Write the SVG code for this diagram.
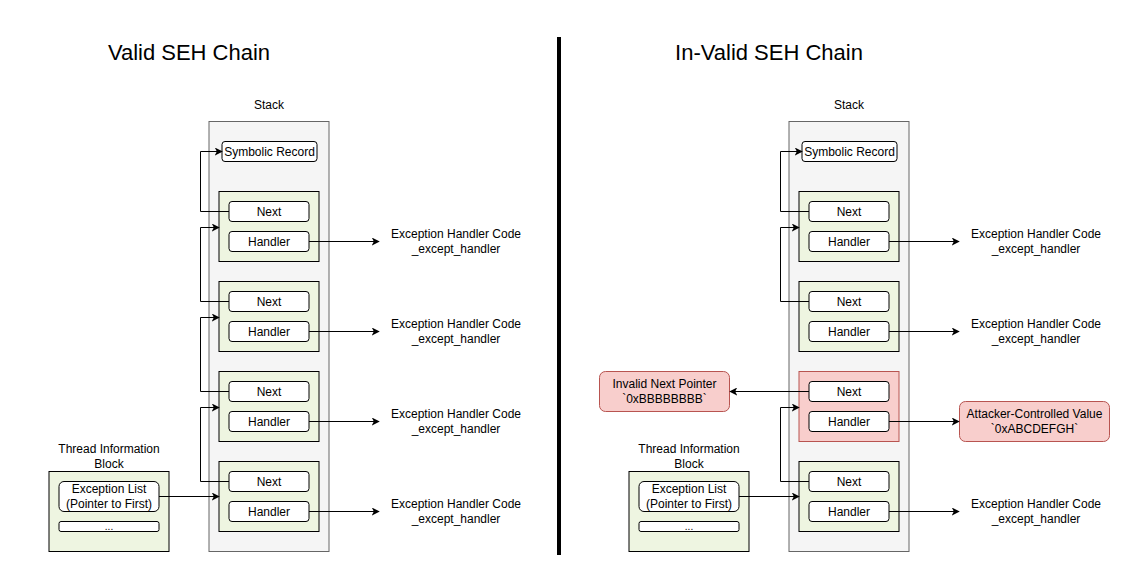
<svg xmlns="http://www.w3.org/2000/svg" width="1145" height="569" viewBox="0 0 1145 569">
<defs>
<style>
text{font-family:"Liberation Sans",Arial,sans-serif;font-size:12px;fill:#000;text-anchor:middle}
.title{font-size:22px}
.stack{fill:#f5f5f5;stroke:#666666;stroke-width:1}
.frame{fill:#eef5e1;stroke:#000;stroke-width:1}
.bad{fill:#f8cecc;stroke:#b85450;stroke-width:1}
.cell{fill:#fff;stroke:#000;stroke-width:1}
.badnode{fill:#f8cecc;stroke:#b85450;stroke-width:1}
.edge{fill:none;stroke:#000;stroke-width:1;marker-end:url(#arr)}
</style>
<marker id="arr" viewBox="0 0 10 10" refX="9" refY="5" markerWidth="8" markerHeight="8" markerUnits="userSpaceOnUse" orient="auto">
<path d="M0,0 L10,5 L0,10 L2.5,5 Z" fill="#000"/>
</marker>
</defs>
<rect width="1145" height="569" fill="#fff"/>

<g id="titles">
<text class="title" x="189" y="60">Valid SEH Chain</text>
<text class="title" x="769" y="60">In-Valid SEH Chain</text>
</g>
<g id="divider"><line x1="559" y1="37" x2="559" y2="555" stroke="#000" stroke-width="4"/></g>

<!-- LEFT -->
<g id="L-stack">
<text x="269" y="109">Stack</text>
<rect class="stack" x="209" y="121.5" width="120" height="430"/>
</g>
<g id="L-sym"><rect class="cell" x="222" y="141.5" width="95" height="20" rx="3"/><text x="269.5" y="155.5">Symbolic Record</text></g>
<g id="L-rec1"><rect class="frame" x="219" y="191.5" width="100" height="70"/>
<rect class="cell" x="229" y="201.5" width="80" height="20" rx="3"/><text x="269" y="215.5">Next</text>
<rect class="cell" x="229" y="231.5" width="80" height="20" rx="3"/><text x="269" y="245.5">Handler</text></g>
<g id="L-rec2"><rect class="frame" x="219" y="281.5" width="100" height="70"/>
<rect class="cell" x="229" y="291.5" width="80" height="20" rx="3"/><text x="269" y="305.5">Next</text>
<rect class="cell" x="229" y="321.5" width="80" height="20" rx="3"/><text x="269" y="335.5">Handler</text></g>
<g id="L-rec3"><rect class="frame" x="219" y="371.5" width="100" height="70"/>
<rect class="cell" x="229" y="381.5" width="80" height="20" rx="3"/><text x="269" y="395.5">Next</text>
<rect class="cell" x="229" y="411.5" width="80" height="20" rx="3"/><text x="269" y="425.5">Handler</text></g>
<g id="L-rec4"><rect class="frame" x="219" y="461.5" width="100" height="70"/>
<rect class="cell" x="229" y="471.5" width="80" height="20" rx="3"/><text x="269" y="485.5">Next</text>
<rect class="cell" x="229" y="501.5" width="80" height="20" rx="3"/><text x="269" y="515.5">Handler</text></g>
<g id="L-tib">
<text x="109" y="453">Thread Information</text><text x="109" y="468">Block</text>
<rect class="frame" x="49" y="471.5" width="120" height="80"/>
<rect class="cell" x="59" y="481.5" width="100" height="30" rx="5"/>
<text x="109" y="493">Exception List</text><text x="109" y="508">(Pointer to First)</text>
<rect class="cell" x="59" y="521.5" width="100" height="10" rx="2"/><text x="109" y="530" style="font-size:10px">...</text>
</g>
<g id="L-code">
<text x="456" y="238">Exception Handler Code</text><text x="456" y="253">_except_handler</text>
<text x="456" y="328">Exception Handler Code</text><text x="456" y="343">_except_handler</text>
<text x="456" y="418">Exception Handler Code</text><text x="456" y="433">_except_handler</text>
<text x="456" y="508">Exception Handler Code</text><text x="456" y="523">_except_handler</text>
</g>

<!-- RIGHT -->
<g id="R-stack">
<text x="849" y="109">Stack</text>
<rect class="stack" x="789" y="121.5" width="120" height="430"/>
</g>
<g id="R-sym"><rect class="cell" x="802" y="141.5" width="95" height="20" rx="3"/><text x="849.5" y="155.5">Symbolic Record</text></g>
<g id="R-rec1"><rect class="frame" x="799" y="191.5" width="100" height="70"/>
<rect class="cell" x="809" y="201.5" width="80" height="20" rx="3"/><text x="849" y="215.5">Next</text>
<rect class="cell" x="809" y="231.5" width="80" height="20" rx="3"/><text x="849" y="245.5">Handler</text></g>
<g id="R-rec2"><rect class="frame" x="799" y="281.5" width="100" height="70"/>
<rect class="cell" x="809" y="291.5" width="80" height="20" rx="3"/><text x="849" y="305.5">Next</text>
<rect class="cell" x="809" y="321.5" width="80" height="20" rx="3"/><text x="849" y="335.5">Handler</text></g>
<g id="R-rec3"><rect class="bad" x="799" y="371.5" width="100" height="70"/>
<rect class="cell" x="809" y="381.5" width="80" height="20" rx="3"/><text x="849" y="395.5">Next</text>
<rect class="cell" x="809" y="411.5" width="80" height="20" rx="3"/><text x="849" y="425.5">Handler</text></g>
<g id="R-rec4"><rect class="frame" x="799" y="461.5" width="100" height="70"/>
<rect class="cell" x="809" y="471.5" width="80" height="20" rx="3"/><text x="849" y="485.5">Next</text>
<rect class="cell" x="809" y="501.5" width="80" height="20" rx="3"/><text x="849" y="515.5">Handler</text></g>
<g id="R-tib">
<text x="689" y="453">Thread Information</text><text x="689" y="468">Block</text>
<rect class="frame" x="629" y="471.5" width="120" height="80"/>
<rect class="cell" x="639" y="481.5" width="100" height="30" rx="5"/>
<text x="689" y="493">Exception List</text><text x="689" y="508">(Pointer to First)</text>
<rect class="cell" x="639" y="521.5" width="100" height="10" rx="2"/><text x="689" y="530" style="font-size:10px">...</text>
</g>
<g id="R-code">
<text x="1036" y="238">Exception Handler Code</text><text x="1036" y="253">_except_handler</text>
<text x="1036" y="328">Exception Handler Code</text><text x="1036" y="343">_except_handler</text>
<text x="1036" y="508">Exception Handler Code</text><text x="1036" y="523">_except_handler</text>
</g>
<g id="R-invalid"><rect class="badnode" x="599.5" y="371.5" width="130" height="40" rx="6"/>
<text x="664.5" y="388">Invalid Next Pointer</text><text x="664.5" y="403">`0xBBBBBBBB`</text></g>
<g id="R-attacker"><rect class="badnode" x="959.5" y="401.5" width="150" height="40" rx="6"/>
<text x="1034.5" y="418">Attacker-Controlled Value</text><text x="1034.5" y="433">`0xABCDEFGH`</text></g>

<g id="connectors">
<path class="edge" d="M229,211.5 H200.5 V151.5 H222"/>
<path class="edge" d="M229,301.5 H200.5 V227.5 H219"/>
<path class="edge" d="M229,391.5 H200.5 V317.5 H219"/>
<path class="edge" d="M229,481.5 H200.5 V407.5 H219"/>
<path class="edge" d="M159,496.5 H219"/>
<path class="edge" d="M309,241.5 H379"/>
<path class="edge" d="M309,331.5 H379"/>
<path class="edge" d="M309,421.5 H379"/>
<path class="edge" d="M309,511.5 H379"/>

<path class="edge" d="M809,211.5 H780.5 V151.5 H802"/>
<path class="edge" d="M809,301.5 H780.5 V227.5 H799"/>
<path class="edge" d="M809,391.5 H730"/>
<path class="edge" d="M809,481.5 H780.5 V407.5 H799"/>
<path class="edge" d="M739,496.5 H799"/>
<path class="edge" d="M889,241.5 H959"/>
<path class="edge" d="M889,331.5 H959"/>
<path class="edge" d="M889,421.5 H959"/>
<path class="edge" d="M889,511.5 H959"/>
</g>
</svg>
